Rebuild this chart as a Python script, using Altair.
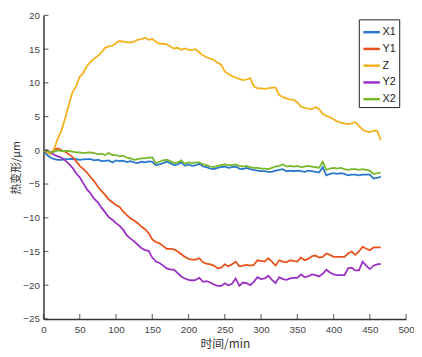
import altair as alt
import pandas as pd

time_min = list(range(0, 470, 5))

x1 = [0, -0.7, -1.1, -1.3, -1.4, -1.4, -1.3, -1.3, -1.25, -1.3,
      -1.4, -1.35, -1.3, -1.3, -1.5, -1.4, -1.6, -1.55, -1.5, -1.8,
      -1.5, -1.6, -1.55, -1.75, -1.6, -1.8, -1.9, -1.7, -1.8, -1.65,
      -1.7, -2.2, -2.1, -1.9, -1.7, -1.9, -2.2, -2.1, -1.8, -2.3,
      -2.1, -2.3, -2.2, -2.0, -2.4, -2.5, -2.7, -2.8, -2.6, -2.5,
      -2.4, -2.6, -2.5, -2.4, -2.7, -2.8, -2.6, -2.8, -2.9, -3.0,
      -3.1, -3.1, -3.2, -3.2, -3.0, -2.9, -2.8, -3.1, -3.0, -3.1,
      -3.0, -3.1, -3.2, -3.0, -3.1, -3.2, -3.3, -2.5, -3.7, -3.5,
      -3.4, -3.5, -3.4, -3.5, -3.7, -3.6, -3.6, -3.7, -3.6, -3.6,
      -3.6, -4.2, -4.1, -3.9]

y1 = [0, -0.2, -0.5, 0.1, 0.3, 0.0, -0.2, -0.6, -1.0, -1.6,
      -2.3, -2.8, -3.3, -4.0, -4.6, -5.4, -6.0, -6.6, -7.3, -7.7,
      -8.1, -8.4, -9.1, -9.6, -10.1, -10.4, -10.8, -11.3, -11.7, -12.3,
      -13.2, -13.6, -13.8, -14.2, -14.6, -14.6, -14.7, -15.0, -15.4, -15.8,
      -16.1, -16.2, -16.2, -16.0, -16.6, -16.8, -16.9, -17.1, -17.5, -17.4,
      -16.9, -17.2, -16.9, -16.5, -17.2, -17.1, -17.0, -17.1, -17.0, -16.3,
      -16.4, -16.5, -16.0, -16.5, -17.1, -16.3, -16.5, -16.6, -16.3, -16.4,
      -16.5, -15.9, -16.3, -16.1, -15.7, -15.6, -15.9, -15.8, -15.3, -15.5,
      -15.8, -15.8, -15.8, -15.8, -15.3, -15.0, -15.5, -15.0, -14.3, -14.6,
      -14.8, -14.4, -14.4, -14.4]

z = [0, -0.3, -0.6, 0.3, 1.8, 3.0, 4.8, 6.8, 8.6, 9.5,
     10.9, 11.5, 12.5, 13.1, 13.6, 14.0, 14.5, 15.2, 15.4, 15.5,
     15.9, 16.2, 16.1, 16.0, 16.0, 16.1, 16.4, 16.5, 16.7, 16.4,
     16.5, 16.1, 15.8, 15.8, 15.7, 15.4, 15.1, 15.2, 14.9, 15.1,
     14.9, 14.9, 15.0, 14.5, 14.1, 13.8, 13.6, 13.4, 13.0, 12.7,
     11.7, 11.3, 11.0, 10.8, 10.6, 10.4, 10.5, 10.7, 9.5, 9.2,
     9.2, 9.1, 9.2, 9.3, 9.3, 8.2, 7.9, 7.7, 7.5, 7.5,
     7.1, 6.5, 6.3, 6.2, 6.1, 6.4, 6.1, 5.4, 5.1, 4.9,
     4.6, 4.3, 4.1, 4.0, 3.9, 4.0, 4.2, 3.6, 3.1, 2.8,
     2.7, 2.9, 2.9, 1.5]

y2 = [0, 0.0, -0.3, -0.7, -0.9, -1.1, -1.5, -2.0, -2.6, -3.4,
      -4.0, -4.9, -5.8, -6.4, -7.2, -7.7, -8.5, -9.2, -9.9, -10.3,
      -10.8, -11.2, -11.8, -12.6, -13.1, -13.5, -14.0, -14.5, -14.8, -14.9,
      -15.9, -16.5, -16.7, -17.1, -17.5, -17.7, -17.7, -18.2, -18.7, -19.0,
      -19.2, -19.3, -19.2, -18.9, -19.5, -19.4, -19.6, -19.9, -20.1, -20.1,
      -19.7, -20.0, -19.8, -19.0, -20.1, -19.6, -19.7, -20.0, -19.5, -18.8,
      -19.1, -19.0, -18.6, -19.2, -19.7, -18.8, -19.1, -19.2, -19.0, -18.9,
      -18.9, -18.4, -18.8, -18.7, -18.4, -18.5, -18.7, -18.3, -17.7, -18.1,
      -18.4, -18.5, -18.5, -18.5, -17.5, -17.4, -17.8, -17.8, -16.5, -17.1,
      -17.6, -17.1, -16.9, -16.85]

x2 = [0, -0.1, -0.3, -0.2, 0.0, -0.1, -0.1, -0.1, -0.2, -0.3,
      -0.3, -0.4, -0.35, -0.3, -0.4, -0.6, -0.5, -0.7, -0.4, -0.7,
      -0.7, -0.9, -0.8, -1.1, -1.2, -1.4, -1.3, -1.2, -1.2, -1.1,
      -1.05, -1.9, -1.7, -1.5, -1.4, -1.6, -1.9, -1.8, -1.5, -2.0,
      -1.8, -1.9, -1.8, -1.8, -2.1, -2.2, -2.4, -2.5, -2.3, -2.2,
      -2.1, -2.2, -2.2, -2.1, -2.3, -2.4, -2.3, -2.5, -2.6, -2.6,
      -2.7, -2.7, -2.8, -2.6, -2.4, -2.3, -2.1, -2.4, -2.3, -2.4,
      -2.3, -2.5, -2.4, -2.3, -2.4, -2.5, -2.6, -1.7, -2.9, -2.7,
      -2.6, -2.7, -2.6, -2.8, -2.9, -2.8, -2.8, -2.9, -2.8, -2.9,
      -3.0, -3.5, -3.4, -3.3]

series_names = ["X1", "Y1", "Z", "Y2", "X2"]
series_colors = ["#2a78cc", "#e8531d", "#f4b11c", "#9a2fc6", "#78b62b"]
x_ticks = list(range(0, 501, 50))
y_ticks = list(range(-25, 21, 5))

rows = []
for name, vals in zip(series_names, [x1, y1, z, y2, x2]):
    for t, v in zip(time_min, vals):
        rows.append({"t": t, "v": v, "s": name})
df = pd.DataFrame(rows)

FONT = "Liberation Sans"
CJK = "Noto Sans CJK SC"

xscale = alt.Scale(domain=[0, 500], nice=False)
yscale = alt.Scale(domain=[-25, 20], nice=False)

xaxis = alt.Axis(title="时间/min", values=x_ticks, grid=False, tickSize=0,
                 labelPadding=6, labelOverlap=False, labelFlush=False,
                 titleFont=CJK, titleFontSize=12,
                 titleFontWeight="normal", titleColor="#333",
                 titlePadding=4)
yaxis = alt.Axis(title="热变形/μm", values=y_ticks, grid=False, tickSize=0,
                 labelPadding=4, labelOverlap=False, labelFlush=False,
                 titleFont=CJK, titleFontSize=11,
                 titleFontWeight="normal", titleColor="#333",
                 titlePadding=1)

lines = alt.Chart(df).mark_line(strokeWidth=1.8).encode(
    x=alt.X("t:Q", scale=xscale, axis=xaxis, title="时间/min"),
    y=alt.Y("v:Q", scale=yscale, axis=yaxis, title="热变形/μm"),
    color=alt.Color("s:N", scale=alt.Scale(domain=series_names, range=series_colors),
                    legend=alt.Legend(title=None, orient="none", legendX=320, legendY=4,
                                      symbolType="stroke", symbolStrokeWidth=2.5,
                                      symbolSize=280, labelFont=FONT, labelFontSize=11,
                                      labelColor="#222", rowPadding=2, labelOffset=1,
                                      strokeColor="#222", fillColor="white",
                                      padding=3, cornerRadius=0)),
    order="t:Q",
    detail="s:N",
)

xt = alt.Chart(pd.DataFrame({"t": x_ticks})).mark_tick(
    orient="vertical", size=5, thickness=1.2, color="#333", yOffset=-2.5
).encode(x=alt.X("t:Q", scale=xscale, axis=xaxis, title="时间/min"),
         y=alt.datum(-25, scale=yscale, axis=yaxis, title="热变形/μm"))

yt = alt.Chart(pd.DataFrame({"v": y_ticks})).mark_tick(
    orient="horizontal", size=5, thickness=1.2, color="#333", xOffset=2.5
).encode(y=alt.Y("v:Q", scale=yscale, axis=yaxis, title="热变形/μm"),
         x=alt.datum(0, scale=xscale, axis=xaxis, title="时间/min"))

chart = alt.layer(lines, xt, yt).properties(
    width=368, height=308,
    autosize=alt.AutoSizeParams(type="none"),
    padding={"left": 36, "top": 5, "right": 8, "bottom": 30},
).configure_view(stroke=None).configure_axis(
    labelFont=FONT, labelFontSize=10, labelColor="#444",
    domainColor="#333", domainWidth=1.5,
)

chart.save("out.html", embed_options={"renderer": "svg", "actions": False})
